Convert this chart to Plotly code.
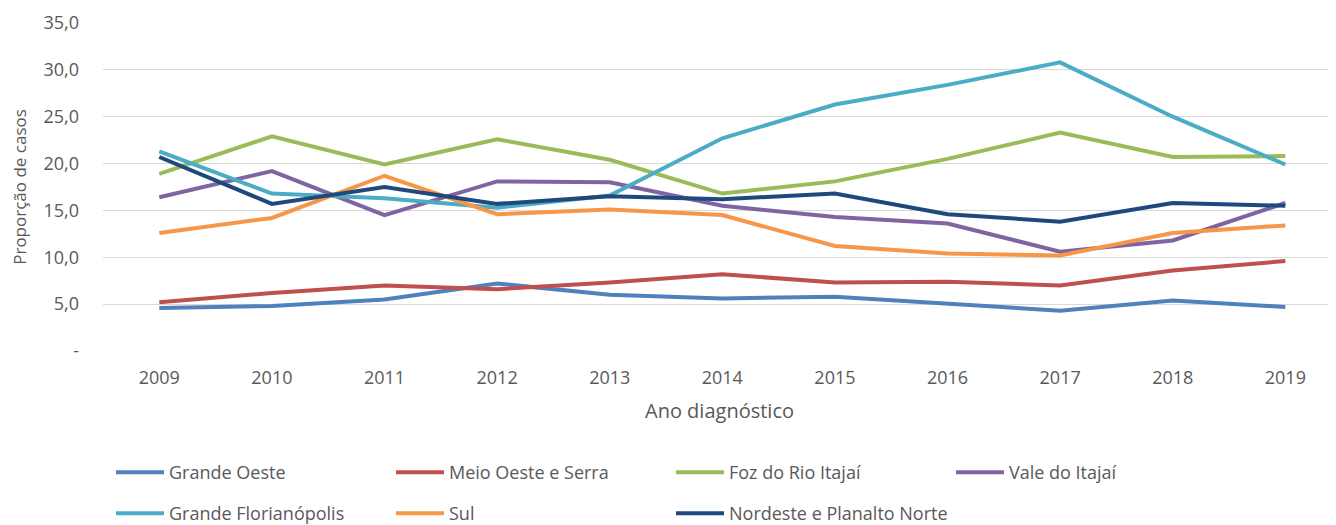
import plotly.graph_objects as go

years = ["2009", "2010", "2011", "2012", "2013", "2014", "2015", "2016", "2017", "2018", "2019"]

grande_oeste = [4.6, 4.8, 5.5, 7.2, 6.0, 5.6, 5.8, 5.1, 4.3, 5.4, 4.7]
meio_oeste_serra = [5.2, 6.2, 7.0, 6.6, 7.3, 8.2, 7.3, 7.4, 7.0, 8.6, 9.6]
foz_rio_itajai = [18.9, 22.9, 19.9, 22.6, 20.4, 16.8, 18.1, 20.5, 23.3, 20.7, 20.8]
vale_itajai = [16.4, 19.2, 14.5, 18.1, 18.0, 15.5, 14.3, 13.6, 10.6, 11.8, 15.8]
grande_florianopolis = [21.3, 16.8, 16.3, 15.3, 16.6, 22.7, 26.3, 28.4, 30.8, 25.0, 19.9]
sul = [12.6, 14.2, 18.7, 14.6, 15.1, 14.5, 11.2, 10.4, 10.2, 12.6, 13.4]
nordeste_planalto_norte = [20.7, 15.7, 17.5, 15.7, 16.5, 16.2, 16.8, 14.6, 13.8, 15.8, 15.5]

series_names = ["Grande Oeste", "Meio Oeste e Serra", "Foz do Rio Itajaí", "Vale do Itajaí",
                "Grande Florianópolis", "Sul", "Nordeste e Planalto Norte"]
series_values = [grande_oeste, meio_oeste_serra, foz_rio_itajai, vale_itajai,
                 grande_florianopolis, sul, nordeste_planalto_norte]
colors = ["#4F81BD", "#C0504D", "#9BBB59", "#8064A2", "#4BACC6", "#F79646", "#1F497D"]
legend_ids = ["legend", "legend", "legend", "legend", "legend2", "legend2", "legend2"]

y_tickvals = [0, 5, 10, 15, 20, 25, 30, 35]
y_ticktext = ["-", "5,0", "10,0", "15,0", "20,0", "25,0", "30,0", "35,0"]

FONT = "Open Sans"
TXT = "#595959"
W, H = 1328, 517  # page body has an 8px margin

fig = go.Figure()
for name, vals, col, lg in zip(series_names, series_values, colors, legend_ids):
    fig.add_trace(go.Scatter(
        x=years, y=vals, name=name, mode="lines",
        line=dict(color=col, width=4),
        legend=lg,
    ))

legend_common = dict(
    orientation="h", xanchor="left", yanchor="top",
    xref="container", yref="container",
    entrywidth=217, entrywidthmode="pixels", itemwidth=48,
    font=dict(family=FONT, size=18, color=TXT),
    bgcolor="rgba(0,0,0,0)", traceorder="normal",
)

fig.update_layout(
    width=W, height=H,
    margin=dict(l=95, r=0, t=15, b=174, autoexpand=False),
    paper_bgcolor="white", plot_bgcolor="white",
    font=dict(family=FONT, size=18, color=TXT),
    showlegend=True,
    legend=dict(x=103 / W, y=1 - 446 / H, **legend_common),
    legend2=dict(x=103 / W, y=1 - 487 / H, **legend_common),
    xaxis=dict(
        type="category", range=[-0.5, 10.45],
        showgrid=False, zeroline=False, showline=False,
        ticks="", ticklabelstandoff=14, automargin=False,
        tickfont=dict(family=FONT, size=18, color=TXT),
        title=dict(text="Ano diagnóstico", standoff=15,
                   font=dict(family=FONT, size=20, color=TXT)),
    ),
    yaxis=dict(
        range=[0, 35], tickvals=y_tickvals, ticktext=y_ticktext,
        showgrid=True, gridcolor="#D9D9D9", gridwidth=1,
        zeroline=False, showline=False, ticks="",
        ticklabelstandoff=23, automargin=False,
        tickfont=dict(family=FONT, size=18, color=TXT),
        title=dict(text="Proporção de casos", standoff=13,
                   font=dict(family=FONT, size=17, color=TXT)),
    ),
)

fig.write_html("out.html")
